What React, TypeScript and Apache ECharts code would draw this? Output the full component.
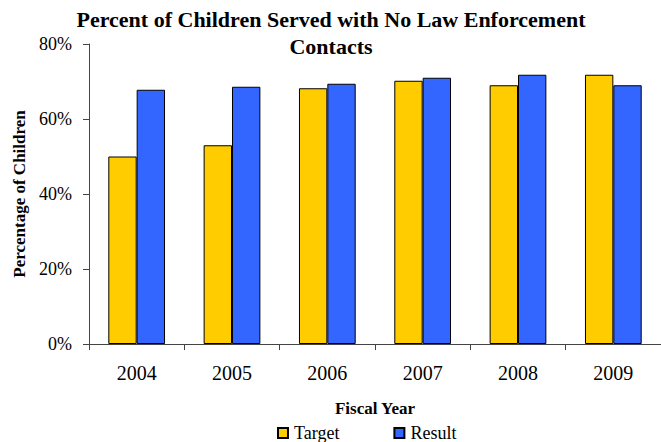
import React, { useEffect, useRef } from "react";
import * as echarts from "echarts";

const categories = ["2004", "2005", "2006", "2007", "2008", "2009"];
const targetValues = [50, 53, 68.2, 70.2, 69, 71.8];
const resultValues = [67.8, 68.6, 69.4, 71, 71.8, 69];
const seriesNames = ["Target", "Result"];
const titleText = "Percent of Children Served with No Law Enforcement\nContacts";
const yAxisName = "Percentage of Children";
const xAxisName = "Fiscal Year";

const FONT = "Times New Roman, Liberation Serif, serif";

export default function App() {
  const ref = useRef<HTMLDivElement>(null);
  useEffect(() => {
    const chart = echarts.init(ref.current!, null, { renderer: "svg" });
    chart.setOption({
      animation: false,
      backgroundColor: "#ffffff",
      textStyle: { fontFamily: FONT },
      title: {
        text: titleText,
        left: 331,
        textAlign: "center",
        top: 6,
        padding: 0,
        textStyle: {
          fontFamily: FONT,
          fontWeight: "bold",
          fontSize: 22,
          lineHeight: 27,
          color: "#000",
        },
      },
      legend: {
        data: seriesNames,
        top: 424,
        left: 277,
        padding: 0,
        itemWidth: 10,
        itemHeight: 10,
        itemGap: 54,
        icon: "rect",
        textStyle: { fontFamily: FONT, fontSize: 18, color: "#000", padding: [0, 0, 0, 1] },
      },
      grid: { left: 89, right: -5, top: 44, bottom: 98, containLabel: false },
      xAxis: {
        type: "category",
        data: categories,
        name: xAxisName,
        nameLocation: "middle",
        nameGap: 56,
        nameTextStyle: { fontFamily: FONT, fontWeight: "bold", fontSize: 17, color: "#000" },
        axisLine: { lineStyle: { color: "#444", width: 1 } },
        axisTick: { show: true, alignWithLabel: false, length: 6, lineStyle: { color: "#444" } },
        axisLabel: { fontFamily: FONT, fontSize: 20, color: "#000", margin: 19 },
      },
      yAxis: {
        type: "value",
        min: 0,
        max: 80,
        interval: 20,
        name: yAxisName,
        nameLocation: "middle",
        nameGap: 60,
        nameTextStyle: { fontFamily: FONT, fontWeight: "bold", fontSize: 17, color: "#000" },
        axisLine: { show: true, lineStyle: { color: "#444", width: 1 } },
        axisTick: { show: true, length: 6, lineStyle: { color: "#444" } },
        axisLabel: { fontFamily: FONT, fontSize: 18, color: "#000", margin: 17, formatter: "{value}%" },
        splitLine: { show: false },
      },
      series: [
        {
          name: seriesNames[0],
          type: "bar",
          data: targetValues,
          barGap: "0%",
          barCategoryGap: "40.5%",
          itemStyle: { color: "#FFCC00", borderColor: "#000", borderWidth: 1 },
        },
        {
          name: seriesNames[1],
          type: "bar",
          data: resultValues,
          itemStyle: { color: "#3366FF", borderColor: "#000", borderWidth: 1 },
        },
      ],
    });
    return () => chart.dispose();
  }, []);
  return (
    <div
      ref={ref}
      style={{ position: "absolute", left: 0, top: 0, width: 661, height: 442, overflow: "hidden" }}
    />
  );
}
